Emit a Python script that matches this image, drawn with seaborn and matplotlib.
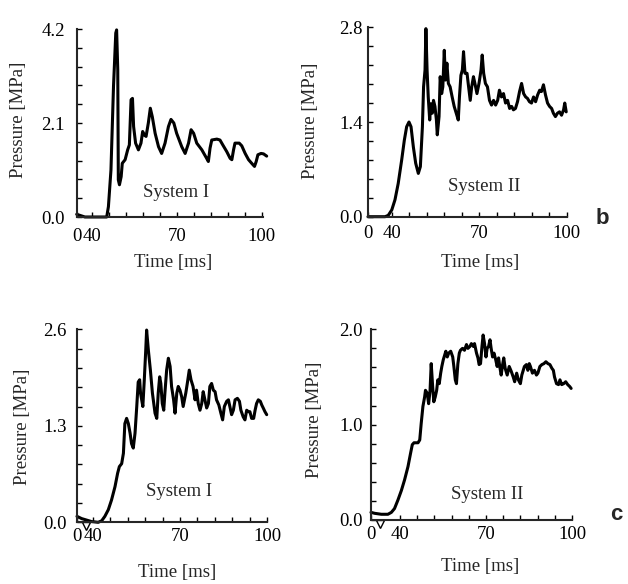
import matplotlib
matplotlib.use("Agg")
import matplotlib.pyplot as plt
import numpy as np
import seaborn as sns

# Pressure traces (time in ms, pressure in MPa)
time_b1 = [34.7, 37.6, 45.3, 45.9, 46.8, 47.7, 48.0, 48.5, 48.8, 49.2,
           49.4, 49.8, 50.4, 50.8, 51.8, 52.7, 53.3, 53.9, 54.4, 54.8,
           55.5, 56.5, 57.4, 58.0, 58.6, 59.2, 60.0, 60.7, 61.4, 62.4,
           63.6, 64.7, 65.9, 67.1, 68.0, 69.0, 70.0, 71.8, 73.0, 74.2,
           75.1, 76.0, 77.1, 78.9, 80.6, 81.2, 81.8, 82.4, 84.2, 85.3,
           86.3, 87.7, 88.9, 89.5, 90.1, 90.6, 92.1, 93.0, 94.2, 95.4,
           96.5, 97.5, 98.1, 98.7, 99.8, 100.7, 101.8]
press_b1 = [0.06, 0.0, 0.0, 0.23, 1.05, 2.92, 3.36, 4.11, 4.18, 3.29,
            0.83, 0.72, 0.90, 1.20, 1.28, 1.50, 1.61, 2.62, 2.65, 2.02,
            1.65, 1.50, 1.65, 1.91, 1.83, 1.80, 2.10, 2.43, 2.24, 1.87,
            1.57, 1.42, 1.65, 2.02, 2.18, 2.10, 1.87, 1.57, 1.42, 1.65,
            1.95, 1.87, 1.65, 1.50, 1.31, 1.24, 1.54, 1.72, 1.74, 1.72,
            1.61, 1.46, 1.31, 1.28, 1.50, 1.65, 1.65, 1.59, 1.42, 1.28,
            1.20, 1.13, 1.24, 1.39, 1.42, 1.41, 1.36]

time_b2 = [31.85, 37.7, 38.8, 40.0, 41.1, 42.2, 43.4, 44.3, 45.1, 45.9,
           46.6, 47.4, 48.2, 49.1, 49.8, 50.5, 50.9, 51.4, 51.7, 52.1,
           52.5, 53.0, 53.4, 53.9, 54.3, 54.8, 55.3, 55.6, 56.2, 56.6,
           57.1, 57.5, 58.0, 58.4, 58.9, 59.4, 60.0, 60.7, 61.4, 62.1,
           62.8, 63.2, 63.7, 64.2, 64.6, 65.1, 65.8, 66.2, 66.9, 67.4,
           68.0, 68.5, 69.2, 69.9, 70.6, 71.0, 71.5, 72.1, 72.8, 73.5,
           74.2, 74.9, 75.6, 76.3, 76.9, 77.6, 78.3, 79.0, 79.7, 80.4,
           81.1, 81.7, 82.4, 83.1, 83.8, 84.5, 85.2, 85.9, 86.5, 87.2,
           87.9, 88.6, 89.3, 90.0, 90.7, 91.3, 92.0, 92.7, 93.4, 94.1,
           94.8, 95.4, 96.1, 96.8, 97.5, 98.2, 98.9, 99.3, 99.8]
press_b2 = [0.0, 0.0, 0.02, 0.10, 0.25, 0.49, 0.84, 1.13, 1.33, 1.40,
            1.33, 1.03, 0.79, 0.64, 0.74, 1.33, 1.92, 2.17, 2.78, 2.17,
            1.77, 1.43, 1.67, 1.53, 1.72, 1.63, 1.43, 1.21, 1.48, 2.07,
            1.82, 1.92, 2.46, 2.02, 2.27, 1.97, 1.92, 1.77, 1.63, 1.53,
            1.43, 1.77, 2.09, 2.17, 2.44, 2.12, 2.12, 1.97, 1.72, 1.92,
            2.07, 1.97, 1.82, 1.97, 2.17, 2.39, 2.12, 1.97, 1.92, 1.72,
            1.65, 1.72, 1.65, 1.72, 1.87, 1.77, 1.82, 1.68, 1.72, 1.60,
            1.63, 1.58, 1.60, 1.70, 1.85, 1.97, 1.82, 1.77, 1.75, 1.70,
            1.68, 1.77, 1.70, 1.80, 1.87, 1.85, 1.95, 1.80, 1.68, 1.63,
            1.60, 1.53, 1.48, 1.53, 1.55, 1.50, 1.58, 1.68, 1.55]

time_c1 = [34.5, 36.1, 37.8, 39.5, 41.8, 43.0, 44.1, 45.3, 46.4, 47.6,
           48.5, 49.1, 49.9, 50.5, 51.0, 51.6, 52.2, 52.8, 53.3, 53.9,
           54.5, 55.1, 55.6, 56.1, 56.4, 56.8, 57.2, 57.7, 58.2, 58.5,
           59.1, 59.8, 60.5, 61.4, 62.0, 62.5, 63.0, 63.4, 63.9, 64.4,
           64.8, 65.4, 66.0, 66.6, 67.1, 67.8, 68.3, 68.9, 69.4, 70.0,
           70.6, 71.1, 72.0, 72.6, 73.2, 73.8, 74.5, 75.2, 75.7, 76.3,
           76.9, 77.5, 78.0, 78.6, 79.2, 79.8, 80.3, 80.9, 81.5, 82.1,
           82.6, 83.4, 84.1, 84.7, 85.3, 86.1, 86.7, 87.2, 87.8, 88.4,
           89.0, 89.8, 90.5, 91.0, 91.8, 92.4, 93.0, 93.6, 94.1, 94.7,
           95.4, 95.9, 96.4, 97.0, 97.7, 98.2, 98.7, 99.3, 99.9]
press_c1 = [0.08, 0.05, 0.03, 0.01, 0.0, 0.02, 0.08, 0.17, 0.30, 0.48,
            0.66, 0.75, 0.79, 0.93, 1.33, 1.40, 1.33, 1.20, 1.06, 1.00,
            1.20, 1.56, 1.89, 1.92, 1.74, 1.65, 1.56, 1.92, 2.32, 2.59,
            2.32, 2.05, 1.74, 1.47, 1.40, 1.74, 1.96, 1.87, 1.60, 1.51,
            1.74, 2.05, 2.21, 2.10, 1.83, 1.65, 1.47, 1.74, 1.83, 1.78,
            1.69, 1.56, 1.74, 1.89, 2.05, 1.92, 1.83, 1.65, 1.78, 1.60,
            1.51, 1.60, 1.76, 1.65, 1.54, 1.60, 1.83, 1.87, 1.78, 1.76,
            1.65, 1.58, 1.47, 1.38, 1.56, 1.63, 1.65, 1.56, 1.45, 1.51,
            1.65, 1.67, 1.63, 1.51, 1.42, 1.38, 1.51, 1.49, 1.49, 1.40,
            1.40, 1.51, 1.60, 1.65, 1.63, 1.58, 1.54, 1.49, 1.45]

time_c2 = [29.9, 31.2, 33.5, 35.8, 37.0, 38.1, 39.3, 40.5, 41.6, 42.8,
           43.7, 44.3, 44.9, 46.3, 46.9, 47.4, 48.0, 48.6, 48.9, 49.5,
           50.0, 50.5, 50.9, 51.4, 51.8, 52.3, 52.8, 53.2, 53.7, 54.2,
           54.6, 55.1, 55.6, 56.0, 56.5, 57.0, 57.7, 58.4, 58.8, 59.3,
           59.7, 60.2, 60.7, 61.1, 61.8, 62.5, 63.2, 63.7, 64.4, 64.9,
           65.6, 66.0, 66.7, 67.2, 67.6, 68.1, 68.6, 69.0, 69.5, 70.0,
           70.4, 70.9, 71.4, 71.8, 72.3, 72.8, 73.4, 73.9, 74.4, 74.8,
           75.3, 75.8, 76.2, 76.7, 77.4, 78.1, 78.8, 79.5, 80.0, 80.7,
           81.3, 82.0, 82.5, 83.0, 83.4, 84.1, 84.6, 85.1, 85.5, 86.2,
           86.9, 87.6, 88.1, 88.8, 89.5, 90.2, 90.9, 91.6, 92.3, 93.0,
           93.5, 93.9, 94.6, 95.3, 95.8, 96.4, 97.1, 97.8, 98.5, 99.2, 99.7]
press_c2 = [0.08, 0.07, 0.06, 0.06, 0.08, 0.12, 0.21, 0.31, 0.42, 0.56,
            0.70, 0.79, 0.81, 0.81, 0.84, 1.01, 1.19, 1.29, 1.36, 1.33,
            1.22, 1.36, 1.64, 1.40, 1.24, 1.29, 1.36, 1.47, 1.43, 1.54,
            1.61, 1.68, 1.73, 1.77, 1.71, 1.75, 1.77, 1.71, 1.61, 1.47,
            1.43, 1.64, 1.75, 1.78, 1.80, 1.78, 1.84, 1.80, 1.82, 1.85,
            1.82, 1.85, 1.75, 1.70, 1.63, 1.64, 1.82, 1.94, 1.85, 1.71,
            1.80, 1.82, 1.89, 1.80, 1.71, 1.75, 1.68, 1.61, 1.70, 1.61,
            1.52, 1.63, 1.70, 1.59, 1.52, 1.61, 1.56, 1.50, 1.45, 1.54,
            1.47, 1.43, 1.52, 1.57, 1.61, 1.63, 1.57, 1.64, 1.61, 1.54,
            1.57, 1.52, 1.54, 1.61, 1.63, 1.64, 1.66, 1.64, 1.63, 1.59,
            1.57, 1.50, 1.43, 1.42, 1.47, 1.42, 1.43, 1.45, 1.42, 1.40, 1.38]

x_tick_labels = ["0", "40", "70", "100"]
system_labels = ["System I", "System II", "System I", "System II"]
y_max = [4.2, 2.8, 2.6, 2.0]
y_labels = [["0.0", "2.1", "4.2"], ["0.0", "1.4", "2.8"],
            ["0.0", "1.3", "2.6"], ["0.0", "1.0", "2.0"]]
panel_letters = ["b", "c"]

sns.set_style("ticks")
plt.rcParams["font.family"] = ["Liberation Serif", "DejaVu Serif"]

fig = plt.figure(figsize=(6.28, 5.84), dpi=100)

W, H = 628.0, 584.0
# box = (left px, right px, bottom px, top px) of each axes in the scan
panels = [
    dict(t=time_b1, p=press_b1, box=(76.7, 263, 217, 29), xlim=(34.7, 100.5),
         ylab=(19, 120), xlab=(173, 263), ypad=8.6, xpad=8.0, sys=(69.8, 0.54),
         brk=False),
    dict(t=time_b2, p=press_b2, box=(368, 566.8, 216.7, 27.3), xlim=(31.85, 100),
         ylab=(310, 121), xlab=(480, 262), ypad=3.8, xpad=5.8, sys=(71.6, 0.44),
         brk=False),
    dict(t=time_c1, p=press_c1, box=(77, 267, 522.3, 329.3), xlim=(34.5, 100),
         ylab=(23, 427), xlab=(177, 572), ypad=7.2, xpad=4.3, sys=(69.7, 0.41),
         brk=True),
    dict(t=time_c2, p=press_c2, box=(371, 572, 520, 329.3), xlim=(29.9, 100),
         ylab=(315, 420), xlab=(480, 566), ypad=5.8, xpad=4.3, sys=(70.3, 0.27),
         brk=True),
]

fs = 13.5
for i, pnl in enumerate(panels):
    l, r, b, t = pnl["box"]
    ax = fig.add_axes([l / W, 1 - b / H, (r - l) / W, (b - t) / H])
    sns.lineplot(x=pnl["t"], y=pnl["p"], ax=ax, color="black", lw=2.2,
                 sort=False, estimator=None, clip_on=False)
    x0, x1 = pnl["xlim"]
    ym = y_max[i]
    ax.set_xlim(x0, x1)
    ax.set_ylim(0, ym)
    sns.despine(ax=ax)
    for s in ["left", "bottom"]:
        ax.spines[s].set_linewidth(1.5)

    ax.set_xticks([x0, 40, 70, 100])
    ax.set_xticklabels(x_tick_labels)
    ax.set_xticks(np.arange(40, 101, 6), minor=True)
    ax.set_yticks([0, ym / 2, ym])
    ax.set_yticklabels(y_labels[i])
    ax.set_yticks(np.linspace(0, ym, 11), minor=True)
    ax.tick_params(which="both", direction="in", length=3.5, width=1.0,
                   colors="black", labelsize=fs)
    ax.tick_params(axis="x", which="major", pad=pnl["xpad"])
    ax.tick_params(axis="y", which="major", pad=pnl["ypad"])

    ax.set_xlabel("Time [ms]", fontsize=fs, va="center")
    ax.set_ylabel("Pressure [MPa]", fontsize=fs, va="center")
    lx, ly = pnl["xlab"]
    ax.xaxis.set_label_coords((lx - l) / (r - l), (b - ly) / (b - t))
    yx, yy = pnl["ylab"]
    ax.yaxis.set_label_coords((yx - l) / (r - l), (b - yy) / (b - t))

    sx, sy = pnl["sys"]
    ax.text(sx, sy, system_labels[i], fontsize=fs, ha="center", va="center")

    if pnl["brk"]:
        # small axis-break glyph just right of the origin
        ax.plot([0.045], [-0.02], marker="v", ms=6, mfc="white", mec="black",
                mew=1.0, transform=ax.transAxes, clip_on=False)
    ax.set_facecolor("none")

fig.text(602 / W, 1 - 218 / H, panel_letters[0], fontsize=16, fontweight="bold",
         family="Liberation Sans", ha="center", va="center")
fig.text(616 / W, 1 - 514 / H, panel_letters[1], fontsize=16, fontweight="bold",
         family="Liberation Sans", ha="center", va="center")

fig.savefig("out.png", dpi=100, facecolor="white")
